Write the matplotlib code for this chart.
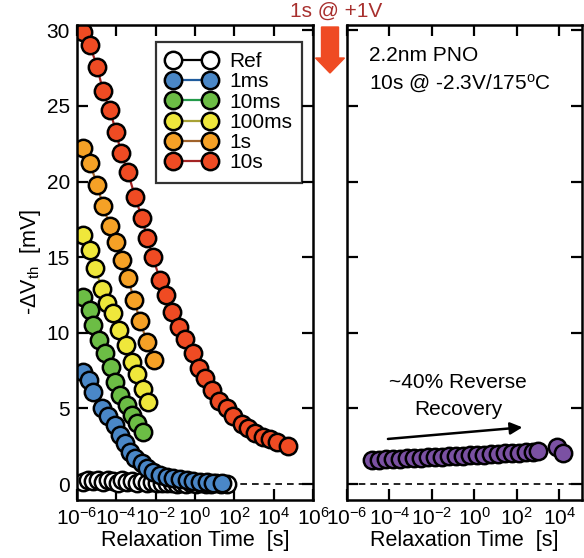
import numpy as np
import matplotlib
matplotlib.use("Agg")
import matplotlib.pyplot as plt
from matplotlib.patches import FancyArrow

plt.rcParams['font.family'] = ['Liberation Sans', 'DejaVu Sans']
plt.rcParams['mathtext.fontset'] = 'custom'
plt.rcParams['mathtext.rm'] = 'Liberation Sans'
plt.rcParams['mathtext.it'] = 'Liberation Sans:italic'
plt.rcParams['axes.unicode_minus'] = False

# ---- data (log10 of relaxation time [s], -dVth [mV]) ----
ref_logt = [-5.69, -5.44, -5.19, -4.94, -4.69, -4.44, -4.19, -3.94, -3.69, -3.44, -3.19, -2.94,
            -2.69, -2.44, -2.19, -1.94, -1.69, -1.44, -1.19, -0.94, -0.69, -0.44, -0.19, 0.06,
            0.31, 0.56, 0.81, 1.06, 1.31, 1.63]
ref_v = [0.15, 0.25, 0.2, 0.3, 0.15, 0.25, 0.2, 0.1, 0.25, 0.15, 0.2, 0.1,
         0.2, 0.1, 0.15, 0.05, 0.1, 0.05, 0.1, 0.0, 0.05, 0.0, 0.05, 0.0,
         0.05, 0.0, 0.0, 0.05, 0.0, 0.0]

ms1_logt = [-5.69, -5.39, -5.19, -4.73, -4.42, -4.07, -3.81, -3.56, -3.31, -3.05, -2.70, -2.44,
            -2.14, -1.78, -1.42, -1.12, -0.76, -0.41, -0.10, 0.25, 0.61, 0.91, 1.37]
ms1_v = [7.4, 6.87, 6.08, 5.02, 4.49, 3.9, 3.24, 2.71, 2.12, 1.72, 1.39, 1.06,
         0.79, 0.59, 0.46, 0.40, 0.33, 0.26, 0.20, 0.17, 0.13, 0.10, 0.07]

ms10_logt = [-5.69, -5.34, -5.19, -4.88, -4.58, -4.27, -4.07, -3.81, -3.46, -3.20, -2.95, -2.64]
ms10_v = [12.36, 11.5, 10.5, 9.5, 8.66, 7.73, 6.74, 5.88, 5.22, 4.56, 4.03, 3.44]

ms100_logt = [-5.69, -5.34, -5.08, -4.73, -4.47, -4.17, -3.86, -3.51, -3.20, -2.95, -2.64, -2.39]
ms100_v = [16.45, 15.5, 14.3, 12.9, 12.0, 11.3, 10.2, 9.2, 8.1, 7.3, 6.3, 5.4]

s1_logt = [-5.69, -5.34, -4.98, -4.68, -4.32, -4.02, -3.71, -3.41, -3.10, -2.80, -2.44, -2.09]
s1_v = [22.2, 21.2, 19.8, 18.4, 17.05, 16.0, 14.8, 13.6, 12.2, 10.8, 9.4, 8.2]

s10_logt = [-5.69, -5.34, -4.98, -4.68, -4.32, -4.02, -3.76, -3.41, -3.05, -2.70, -2.44, -2.14,
            -1.78, -1.48, -1.17, -0.81, -0.51, -0.10, 0.20, 0.51, 0.86, 1.22, 1.63, 1.93,
            2.39, 2.69, 3.05, 3.46, 3.81, 4.17, 4.73]
s10_v = [29.9, 29.0, 27.6, 26.0, 24.7, 23.3, 21.9, 20.6, 19.0, 17.6, 16.3, 15.0,
         13.5, 12.5, 11.4, 10.4, 9.6, 8.7, 7.7, 7.0, 6.2, 5.5, 5.0, 4.5,
         4.0, 3.7, 3.4, 3.1, 2.95, 2.8, 2.55]

rev_logt = [-4.82, -4.49, -4.16, -3.83, -3.50, -3.17, -2.84, -2.51, -2.18, -1.85, -1.52, -1.19,
            -0.86, -0.53, -0.20, 0.13, 0.46, 0.79, 1.12, 1.45, 1.78, 2.11, 2.44, 2.77, 3.0,
            3.9, 4.2]
rev_v = [1.59, 1.62, 1.63, 1.66, 1.68, 1.70, 1.73, 1.74, 1.77, 1.79, 1.81, 1.84,
         1.86, 1.88, 1.90, 1.93, 1.95, 1.98, 2.00, 2.03, 2.06, 2.08, 2.10, 2.13, 2.18,
         2.45, 2.05]

series = [
    ('Ref', ref_logt, ref_v, 'white', 'black'),
    ('1ms', ms1_logt, ms1_v, '#4a87c7', '#1f5b9c'),
    ('10ms', ms10_logt, ms10_v, '#6cbd45', '#239a4a'),
    ('100ms', ms100_logt, ms100_v, '#efe73b', '#a8a235'),
    ('1s', s1_logt, s1_v, '#f5a126', '#a0622a'),
    ('10s', s10_logt, s10_v, '#ef4b23', '#a42424'),
]

FS = 15
W, H = 584, 558
fig = plt.figure(figsize=(W / 100, H / 100), dpi=100)
axL = fig.add_axes([77 / W, (H - 500) / H, (313 - 77) / W, (500 - 25) / H])
axR = fig.add_axes([347 / W, (H - 500) / H, (582 - 347) / W, (500 - 25) / H])

mk = dict(marker='o', markersize=12.5, markeredgewidth=1.8, markeredgecolor='black', linewidth=1.6)

for label, lt, v, fc, lc in series:
    axL.plot(10 ** np.array(lt), v, color=lc, markerfacecolor=fc, label=label, **mk)

axR.plot(10 ** np.array(rev_logt), rev_v, color='#5a3a80', markerfacecolor='#7b51a3', **mk)

for ax in (axL, axR):
    ax.set_xscale('log')
    ax.set_ylim(-1.05, 30.35)
    ax.axhline(0, color='black', linestyle=(0, (4, 3)), linewidth=1.2, zorder=0)
    ax.set_yticks([0, 5, 10, 15, 20, 25, 30])
    ax.tick_params(direction='in', length=8, width=1.6, top=True, right=True,
                   labelsize=FS, pad=5)
    for s in ax.spines.values():
        s.set_linewidth(1.8)
    ax.set_xlabel('Relaxation Time  [s]', fontsize=FS + 0.5, labelpad=1)

axL.set_xlim(1e-6, 1e6)
axL.set_xticks([1e-6, 1e-4, 1e-2, 1e0, 1e2, 1e4, 1e6])
axR.set_xlim(1e-6, 1.2e5)
axR.set_xticks([1e-6, 1e-4, 1e-2, 1e0, 1e2, 1e4])
for ax in (axL, axR):
    ax.minorticks_off()
axR.tick_params(labelleft=False)
axL.set_ylabel(r'-$\Delta$V$_{\rm th}$  [mV]', fontsize=FS + 0.5, labelpad=3)

leg = axL.legend(loc='upper left', bbox_to_anchor=(0.335, 0.965), fontsize=FS,
                 numpoints=2, handlelength=2.4, handletextpad=0.6, labelspacing=0.06,
                 borderpad=0.5, borderaxespad=0, fancybox=False, frameon=True)
leg.get_frame().set_edgecolor('black')
leg.get_frame().set_linewidth(1.6)

axR.text(0.094, 0.935, '2.2nm PNO', transform=axR.transAxes, fontsize=FS, va='center')
axR.text(0.094, 0.876, r'10s @ -2.3V/175$^{\rm o}$C', transform=axR.transAxes, fontsize=FS,
         va='center')
axR.text(10 ** -0.76, 6.7, '~40% Reverse', fontsize=FS, ha='center', va='center')
axR.text(10 ** -0.76, 4.9, 'Recovery', fontsize=FS, ha='center', va='center')
axR.annotate('', xy=(10 ** 2.4, 3.77), xytext=(10 ** -4.2, 2.97),
             arrowprops=dict(arrowstyle='-|>', color='black', lw=1.8, mutation_scale=18))

fig.text(336 / W, 1 - 11 / H, '1s @ +1V', color='#a8302e', fontsize=FS, ha='center', va='center')
fig.patches.append(FancyArrow(330 / W, 1 - 27 / H, 0, -(73 - 27) / H, width=17 / W,
                              head_width=29 / W, head_length=15 / H,
                              length_includes_head=True, color='#ef4b23',
                              transform=fig.transFigure, figure=fig))

fig.savefig('out.png', dpi=100)
